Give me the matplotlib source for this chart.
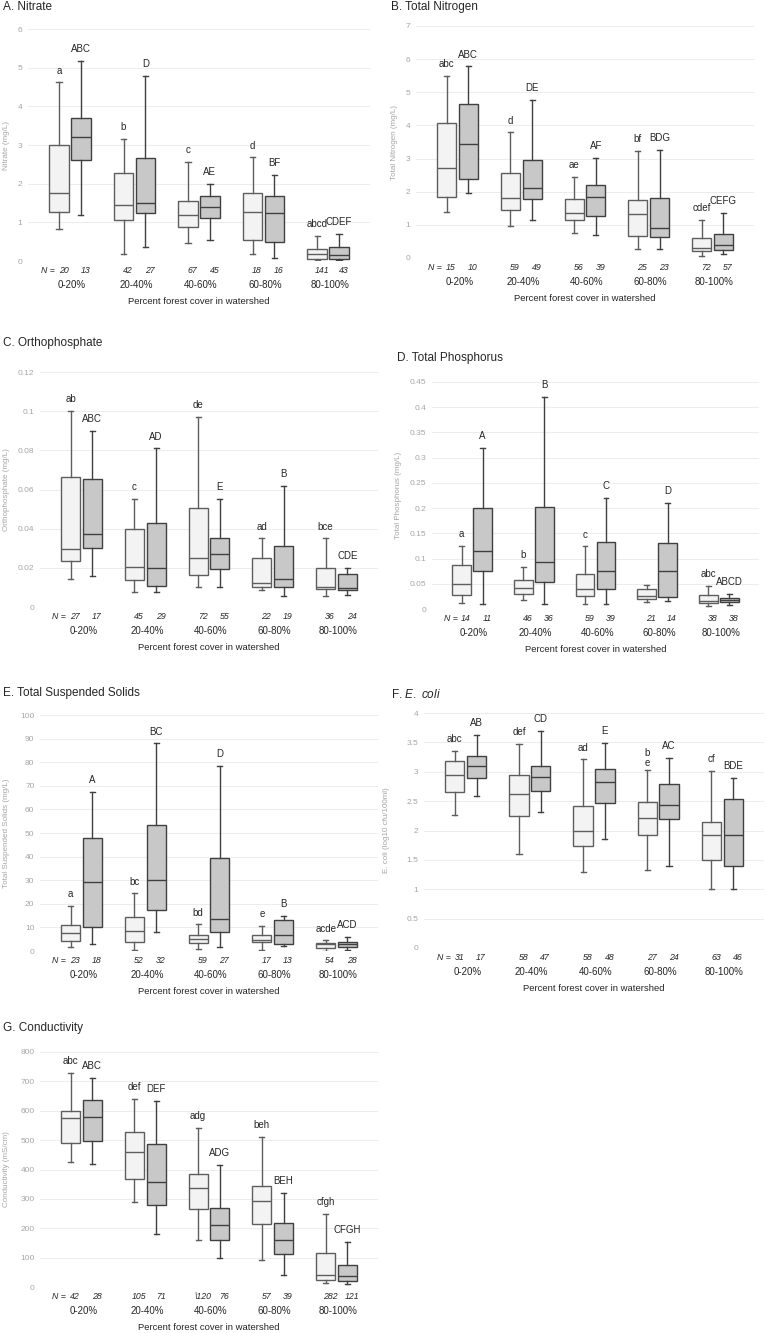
import matplotlib
matplotlib.use("Agg")
import matplotlib.pyplot as plt
from matplotlib.ticker import FuncFormatter, MultipleLocator

plt.rcParams["font.family"] = ["Liberation Sans", "DejaVu Sans"]
plt.rcParams["mathtext.fontset"] = "custom"
plt.rcParams["mathtext.rm"] = "Liberation Sans"
plt.rcParams["mathtext.it"] = "Liberation Sans:italic"

CATEGORIES = ["0-20%", "20-40%", "40-60%", "60-80%", "80-100%"]
XLABEL = "Percent forest cover in watershed"

# box stats per group: (whisker low, Q1, median, Q3, whisker high)
nitrate_light = [(0.82, 1.26, 1.75, 3.01, 4.62), (0.17, 1.06, 1.46, 2.28, 3.15),
                 (0.47, 0.87, 1.18, 1.55, 2.56), (0.17, 0.55, 1.26, 1.76, 2.68),
                 (0.02, 0.05, 0.19, 0.30, 0.64)]
nitrate_dark = [(1.18, 2.62, 3.21, 3.69, 5.18), (0.35, 1.23, 1.50, 2.66, 4.78),
                (0.55, 1.11, 1.39, 1.69, 1.99), (0.07, 0.49, 1.23, 1.68, 2.22),
                (0.02, 0.04, 0.15, 0.37, 0.71)]
nitrate_n_light = [20, 42, 67, 18, 141]
nitrate_n_dark = [13, 27, 45, 16, 43]
nitrate_let_light = ["a", "b", "c", "d", "abcd"]
nitrate_let_dark = ["ABC", "D", "AE", "BF", "CDEF"]

tn_light = [(1.40, 1.83, 2.71, 4.06, 5.50), (0.96, 1.44, 1.81, 2.56, 3.79),
            (0.76, 1.15, 1.36, 1.77, 2.44), (0.27, 0.66, 1.33, 1.75, 3.23),
            (0.06, 0.20, 0.29, 0.60, 1.14)]
tn_dark = [(1.97, 2.39, 3.43, 4.66, 5.78), (1.16, 1.78, 2.11, 2.97, 4.76),
           (0.68, 1.26, 1.83, 2.19, 3.03), (0.27, 0.63, 0.91, 1.81, 3.26),
           (0.12, 0.24, 0.39, 0.72, 1.36)]
tn_n_light = [15, 59, 56, 25, 72]
tn_n_dark = [10, 49, 39, 23, 57]
tn_let_light = ["abc", "d", "ae", "bf", "cdef"]
tn_let_dark = ["ABC", "DE", "AF", "BDG", "CEFG"]

op_light = [(0.0145, 0.0235, 0.0296, 0.0665, 0.100), (0.0075, 0.0140, 0.0206, 0.0398, 0.055),
            (0.0100, 0.0165, 0.0252, 0.0505, 0.097), (0.0089, 0.0102, 0.0123, 0.0250, 0.035),
            (0.0054, 0.0094, 0.0102, 0.0199, 0.035)]
op_dark = [(0.0160, 0.0303, 0.0371, 0.0655, 0.090), (0.0075, 0.0109, 0.0201, 0.0429, 0.081),
           (0.0102, 0.0194, 0.0269, 0.0352, 0.055), (0.0058, 0.0102, 0.0145, 0.0311, 0.062),
           (0.0061, 0.0085, 0.0097, 0.0167, 0.020)]
op_n_light = [27, 45, 72, 22, 36]
op_n_dark = [17, 29, 55, 19, 24]
op_let_light = ["ab", "c", "de", "ad", "bce"]
op_let_dark = ["ABC", "AD", "E", "B", "CDE"]

tp_light = [(0.012, 0.028, 0.050, 0.088, 0.125), (0.017, 0.030, 0.041, 0.057, 0.084),
            (0.010, 0.025, 0.040, 0.070, 0.124), (0.013, 0.020, 0.026, 0.039, 0.047),
            (0.005, 0.011, 0.015, 0.027, 0.046)]
tp_dark = [(0.010, 0.075, 0.115, 0.200, 0.320), (0.010, 0.053, 0.093, 0.202, 0.420),
           (0.010, 0.040, 0.075, 0.133, 0.220), (0.015, 0.024, 0.075, 0.130, 0.210),
           (0.007, 0.013, 0.018, 0.022, 0.030)]
tp_n_light = [14, 46, 59, 21, 38]
tp_n_dark = [11, 36, 39, 14, 38]
tp_let_light = ["a", "b", "c", "", "abc"]
tp_let_dark = ["A", "B", "C", "D", "ABCD"]

tss_light = [(1.7, 4.4, 7.8, 11.2, 19.2), (0.6, 3.8, 8.3, 14.6, 24.4),
             (0.8, 3.3, 5.2, 6.6, 11.3), (0.6, 3.7, 4.7, 6.6, 10.5),
             (0.1, 1.4, 3.0, 3.4, 4.5)]
tss_dark = [(3.1, 10.2, 29.1, 47.8, 67.5), (8.1, 17.5, 30.1, 53.2, 88.0),
            (1.6, 8.1, 13.6, 39.3, 78.5), (2.1, 3.1, 6.9, 13.0, 15.0),
            (0.6, 1.7, 3.1, 4.0, 5.9)]
tss_n_light = [23, 52, 59, 17, 54]
tss_n_dark = [18, 32, 27, 13, 28]
tss_let_light = ["a", "bc", "bd", "e", "acde"]
tss_let_dark = ["A", "BC", "D", "B", "ACD"]

ecoli_light = [(2.26, 2.66, 2.94, 3.18, 3.36), (1.60, 2.25, 2.62, 2.94, 3.47),
               (1.30, 1.74, 2.00, 2.41, 3.21), (1.32, 1.93, 2.22, 2.48, 3.03),
               (1.00, 1.49, 1.92, 2.15, 3.01)]
ecoli_dark = [(2.58, 2.90, 3.10, 3.27, 3.63), (2.32, 2.68, 2.91, 3.10, 3.69),
              (1.86, 2.46, 2.83, 3.04, 3.49), (1.40, 2.20, 2.44, 2.80, 3.23),
              (1.00, 1.39, 1.93, 2.53, 2.90)]
ecoli_n_light = [31, 58, 58, 27, 63]
ecoli_n_dark = [17, 47, 48, 24, 46]
ecoli_let_light = ["abc", "def", "ad", "b\ne", "cf"]
ecoli_let_dark = ["AB", "CD", "E", "AC", "BDE"]

cond_light = [(426, 490, 575, 599, 730), (289, 368, 460, 529, 640),
              (159, 266, 337, 386, 542), (93, 213, 292, 344, 510),
              (14, 24, 42, 116, 249)]
cond_dark = [(420, 496, 580, 637, 713), (182, 280, 359, 488, 634),
             (100, 159, 212, 270, 415), (40, 113, 159, 219, 320),
             (9, 22, 36, 74, 153)]
cond_n_light = ["42", "105", "\\120", "57", "282"]
cond_n_dark = ["28", "71", "76", "39", "121"]
cond_let_light = ["abc", "def", "adg", "beh", "cfgh"]
cond_let_dark = ["ABC", "DEF", "ADG", "BEH", "CFGH"]

W, H = 767, 1333
LIGHT_FILL, DARK_FILL = "#f3f3f3", "#c8c8c8"
LIGHT_EDGE, DARK_EDGE = "#5e5e5e", "#404040"
TICK_GREY = "#a6a6a6"


def box_stats(rows):
    return [dict(whislo=a, q1=b, med=c, q3=d, whishi=e, fliers=[]) for a, b, c, d, e in rows]


def fmt(v, _):
    return f"{round(v, 6):g}"


def draw_panel(rect, title, title_xy, ylabel, ylab_x, ymax, ystep,
               light, dark, n_light, n_dark, let_light, let_dark,
               show_xlabel=True):
    left, top, right, bottom = rect
    ax = fig.add_axes([left / W, 1 - bottom / H, (right - left) / W, (bottom - top) / H])
    xs = list(range(len(CATEGORIES)))
    xl = [x - 0.17 for x in xs]
    xd = [x + 0.17 for x in xs]
    for pos, rows, fill, edge in ((xl, light, LIGHT_FILL, LIGHT_EDGE), (xd, dark, DARK_FILL, DARK_EDGE)):
        ax.bxp(box_stats(rows), positions=pos, widths=0.3, patch_artist=True,
               showfliers=False, manage_ticks=False, capwidths=0.08,
               boxprops=dict(facecolor=fill, edgecolor=edge, linewidth=1.0),
               whiskerprops=dict(color=edge, linewidth=1.0),
               capprops=dict(color=edge, linewidth=1.0),
               medianprops=dict(color=edge, linewidth=1.0))

    ax.set_xlim(-0.65, 4.65)
    ax.set_ylim(0, ymax)
    ax.yaxis.set_major_locator(MultipleLocator(ystep))
    ax.yaxis.set_major_formatter(FuncFormatter(fmt))
    ax.set_xticks([])
    ax.tick_params(axis="y", length=0, pad=4, labelsize=6, labelcolor=TICK_GREY)
    ax.grid(axis="y", color="#ececec", linewidth=0.7)
    ax.set_axisbelow(True)
    for s in ax.spines.values():
        s.set_visible(False)

    ax.set_ylabel(ylabel, fontsize=5.8, color=TICK_GREY, va="center")
    ax.yaxis.set_label_coords(-(left - ylab_x) / (right - left), 0.5)

    for i in xs:
        for x, rows, lab in ((xl[i], light, let_light[i]), (xd[i], dark, let_dark[i])):
            if lab:
                ax.annotate(lab, xy=(x, rows[i][4]), xytext=(0, 8.5), textcoords="offset points",
                            ha="center", va="center", fontsize=7, color="#262626",
                            linespacing=1.0, annotation_clip=False)
        trans = ("data", "axes fraction")
        ax.annotate(str(n_light[i]), xy=(xl[i] + 0.07, 0), xycoords=trans, xytext=(0, -6.5),
                    textcoords="offset points", ha="center", va="center",
                    fontsize=6.3, style="italic", color="#262626")
        ax.annotate(str(n_dark[i]), xy=(xd[i] + 0.07, 0), xycoords=trans, xytext=(0, -6.5),
                    textcoords="offset points", ha="center", va="center",
                    fontsize=6.3, style="italic", color="#262626")
        ax.annotate(CATEGORIES[i], xy=(i + 0.03, 0), xycoords=trans, xytext=(0, -17.5),
                    textcoords="offset points", ha="center", va="center",
                    fontsize=7, color="#262626")
    ax.annotate("N = ", xy=(xl[0] - 0.03, 0), xycoords=("data", "axes fraction"),
                xytext=(0, -6.5), textcoords="offset points", ha="right", va="center",
                fontsize=6.3, style="italic", color="#262626")
    if show_xlabel:
        ax.annotate(XLABEL, xy=(0.5, 0), xycoords="axes fraction", xytext=(0, -29.5),
                    textcoords="offset points", ha="center", va="center",
                    fontsize=6.8, color="#262626")
    fig.text(title_xy[0] / W, 1 - title_xy[1] / H, title, ha="left", va="center",
             fontsize=8.5, color="#262626")
    return ax


fig = plt.figure(figsize=(W / 100, H / 100), dpi=100)

draw_panel((28, 29, 370, 261), "A. Nitrate", (3, 7), "Nitrate (mg/L)", 7, 6, 1,
           nitrate_light, nitrate_dark, nitrate_n_light, nitrate_n_dark,
           nitrate_let_light, nitrate_let_dark)
draw_panel((416, 26, 754, 258), "B. Total Nitrogen", (391, 7), "Total Nitrogen (mg/L)", 394, 7, 1,
           tn_light, tn_dark, tn_n_light, tn_n_dark, tn_let_light, tn_let_dark)
draw_panel((40, 372, 378, 607), "C. Orthophosphate", (3, 343), "Orthophosphate (mg/L)", 7, 0.12, 0.02,
           op_light, op_dark, op_n_light, op_n_dark, op_let_light, op_let_dark)
draw_panel((432, 382, 759, 609), "D. Total Phosphorus", (397, 358), "Total Phosphorus (mg/L)", 399,
           0.45, 0.05, tp_light, tp_dark, tp_n_light, tp_n_dark, tp_let_light, tp_let_dark)
draw_panel((40, 715, 378, 951), "E. Total Suspended Solids", (3, 693), "Total Suspended Solids (mg/L)",
           7, 100, 10, tss_light, tss_dark, tss_n_light, tss_n_dark, tss_let_light, tss_let_dark)
draw_panel((424, 713, 764, 948), r"F. $\mathit{E.\ coli}$", (391, 695), "E. coli (log10 cfu/100ml)",
           387, 4, 0.5, ecoli_light, ecoli_dark, ecoli_n_light, ecoli_n_dark,
           ecoli_let_light, ecoli_let_dark)
draw_panel((40, 1052, 378, 1287), "G. Conductivity", (3, 1028), "Conductivity (mS/cm)", 7, 800, 100,
           cond_light, cond_dark, cond_n_light, cond_n_dark, cond_let_light, cond_let_dark)

fig.savefig("out.png", dpi=100)
